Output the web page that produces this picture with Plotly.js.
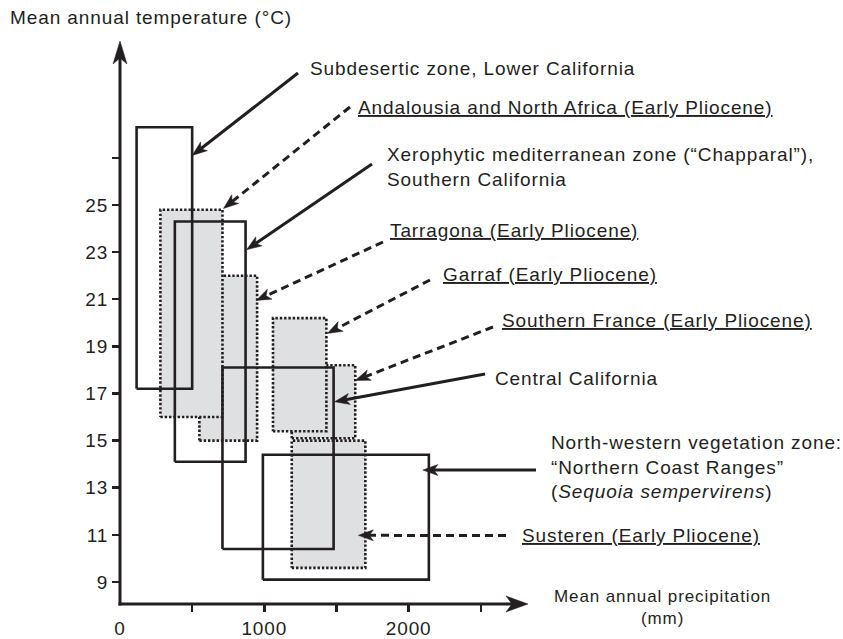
<!DOCTYPE html>
<html>
<head>
<meta charset="utf-8">
<script src="https://cdn.plot.ly/plotly-3.0.1.min.js"></script>
<style>
  html, body { margin: 0; padding: 0; background: #ffffff; }
  #chart { width: 843px; height: 639px; }
  text { letter-spacing: 0.9px; }
</style>
</head>
<body>
<div id="chart"></div>
<script>
// Climate envelopes: mean annual precipitation (mm) against mean annual temperature (°C)

// Early Pliocene floras (dotted outline, grey fill), in drawing order
const plioceneSites = ['Tarragona', 'Andalousia and North Africa', 'Southern France', 'Garraf', 'Susteren'];
const plioPrecipMin = [550, 280, 1190, 1060, 1190];
const plioPrecipMax = [950, 710, 1630, 1430, 1700];
const plioTempMin = [15.0, 16.0, 15.1, 15.4, 9.6];
const plioTempMax = [22.0, 24.8, 18.2, 20.2, 15.0];

// Present-day Californian vegetation zones (solid outline)
const modernZones = ['Subdesertic zone, Lower California', 'Xerophytic mediterranean zone, Southern California', 'Central California', 'North-western vegetation zone'];
const modPrecipMin = [115, 380, 710, 990];
const modPrecipMax = [500, 870, 1480, 2140];
const modTempMin = [17.2, 14.1, 10.4, 9.1];
const modTempMax = [28.3, 24.3, 18.1, 14.4];

// Axis ticks and labels
const precipTickVals = [500, 1000, 1500, 2000, 2500];
const precipLabelVals = [0, 1000, 2000];
const precipLabels = ['0', '1000', '2000'];
const tempTickVals = [9, 11, 13, 15, 17, 19, 21, 23, 25, 27];
const tempLabels = ['9', '11', '13', '15', '17', '19', '21', '23', '25', ''];

// ---- layout geometry ----
const W = 843, H = 639;
const ML = 120, MT = 43, PW = 407, PH = 561;
const XMAX = 2820;
const YMIN = 8.066, YMAX = 31.875;
const INK = '#231f20';
const GREY = '#dfe0e2';
const FAMILY = '"Liberation Sans", Arial, Helvetica, sans-serif';
const FONT = { family: FAMILY, size: 19, color: INK };
const SMALL = { family: FAMILY, size: 17, color: INK };

const toPX = v => ML + v / XMAX * PW;
const toPY = v => MT + (YMAX - v) / (YMAX - YMIN) * PH;
const paperX = p => (p - ML) / PW;
const paperY = p => (MT + PH - p) / PH;

function boxTrace(x0, x1, y0, y1, name, dotted) {
  return {
    type: 'scatter', mode: 'lines', name: name,
    x: [x0, x1, x1, x0, x0], y: [y0, y0, y1, y1, y0],
    fill: dotted ? 'toself' : 'none',
    fillcolor: GREY,
    line: dotted ? { color: INK, width: 2.6, dash: '2.4px,1.9px' } : { color: INK, width: 2.6 },
    hoverinfo: 'skip', showlegend: false
  };
}

const traces = [];
plioceneSites.forEach((s, i) => traces.push(boxTrace(plioPrecipMin[i], plioPrecipMax[i], plioTempMin[i], plioTempMax[i], s, true)));
modernZones.forEach((s, i) => traces.push(boxTrace(modPrecipMin[i], modPrecipMax[i], modTempMin[i], modTempMax[i], s, false)));
// carrier for the labelled precipitation axis
traces.push({ type: 'scatter', mode: 'markers', x: [0], y: [9], xaxis: 'x2', yaxis: 'y',
  marker: { opacity: 0 }, hoverinfo: 'skip', showlegend: false });

// Arrow: shaft plus barbed head, built in pixel space, placed in paper coordinates
function arrowShapes(tail, tip, o) {
  const dx = tip[0] - tail[0], dy = tip[1] - tail[1];
  const len = Math.hypot(dx, dy);
  const ux = dx / len, uy = dy / len, nx = -uy, ny = ux;
  const back = [tip[0] - ux * o.len, tip[1] - uy * o.len];
  const p1 = [back[0] + nx * o.half, back[1] + ny * o.half];
  const p2 = [back[0] - nx * o.half, back[1] - ny * o.half];
  const mid = [tip[0] - ux * (o.len - o.notch), tip[1] - uy * (o.len - o.notch)];
  const pt = p => paperX(p[0]).toFixed(5) + ',' + paperY(p[1]).toFixed(5);
  return [
    { type: 'line', xref: 'paper', yref: 'paper', layer: 'above',
      x0: paperX(tail[0]), y0: paperY(tail[1]), x1: paperX(mid[0]), y1: paperY(mid[1]),
      line: { color: INK, width: o.width, dash: o.dashed ? '8px,5px' : 'solid' } },
    { type: 'path', xref: 'paper', yref: 'paper', layer: 'above',
      path: 'M' + pt(tip) + 'L' + pt(p1) + 'L' + pt(mid) + 'L' + pt(p2) + 'Z',
      fillcolor: INK, line: { color: INK, width: 0.5 } }
  ];
}

const boxes = {
  plio: { xmax: plioPrecipMax },
  modern: { xmax: modPrecipMax }
};

// Callouts: label text, label anchor (px), box pointed at, temperature hit, tail (px)
const callouts = [
  { text: 'Subdesertic zone, Lower California', tx: 308, ty: 68, set: 'modern', i: 0, at: 27.1, dx: 0, tail: [298, 73], dashed: false },
  { text: '<u>Andalousia and North Africa (Early Pliocene)</u>', tx: 356, ty: 108, set: 'plio', i: 1, at: 24.85, dx: 1, tail: [350, 107], dashed: true },
  { text: 'Xerophytic mediterranean zone (“Chapparal”),<br>Southern California', tx: 385, ty: 167, set: 'modern', i: 1, at: 23.1, dx: 1, tail: [372, 164], dashed: false },
  { text: '<u>Tarragona (Early Pliocene)</u>', tx: 388, ty: 230, set: 'plio', i: 0, at: 20.95, dx: -1, tail: [383, 242], dashed: true },
  { text: '<u>Garraf (Early Pliocene)</u>', tx: 441, ty: 274, set: 'plio', i: 3, at: 19.55, dx: 1, tail: [430, 280], dashed: true },
  { text: '<u>Southern France (Early Pliocene)</u>', tx: 500, ty: 320, set: 'plio', i: 2, at: 17.55, dx: 0, tail: [493, 327], dashed: true },
  { text: 'Central California', tx: 493, ty: 378, set: 'modern', i: 2, at: 16.65, dx: 1, tail: [485, 374], dashed: false },
  { text: 'North-western vegetation zone:<br>“Northern Coast Ranges”<br>(<i>Sequoia sempervirens</i>)', tx: 549, ty: 467, set: 'modern', i: 3, at: 13.75, dx: -6, tail: [536, 470], dashed: false },
  { text: '<u>Susteren (Early Pliocene)</u>', tx: 520, ty: 535, set: 'plio', i: 4, at: 10.98, dx: -7, tail: [506, 535.5], dashed: true }
];

let shapes = [];
const annotations = [];

// axes drawn as arrows from the origin
shapes = shapes.concat(arrowShapes([118.5, 604], [528, 604], { len: 22, half: 8, notch: 6, width: 3 }));
shapes = shapes.concat(arrowShapes([120, 605.5], [120, 41], { len: 23, half: 7, notch: 6, width: 3 }));

callouts.forEach(c => {
  const tip = [toPX(boxes[c.set].xmax[c.i]) + c.dx, toPY(c.at)];
  shapes = shapes.concat(arrowShapes(c.tail, tip, { len: 15, half: 5.5, notch: 4, width: 3, dashed: c.dashed }));
  annotations.push({ xref: 'paper', yref: 'paper', x: paperX(c.tx), y: paperY(c.ty),
    xanchor: 'left', yanchor: 'middle', align: 'left', showarrow: false, text: c.text, font: FONT });
});

// axis titles
annotations.push({ xref: 'paper', yref: 'paper', x: paperX(8), y: paperY(18), xanchor: 'left', yanchor: 'middle',
  showarrow: false, text: 'Mean annual temperature (°C)', font: FONT });
annotations.push({ xref: 'paper', yref: 'paper', x: paperX(662), y: paperY(607), xanchor: 'center', yanchor: 'middle',
  align: 'center', showarrow: false, text: 'Mean annual precipitation<br>(mm)', font: SMALL });

const layout = {
  width: W, height: H,
  margin: { l: ML, r: W - ML - PW, t: MT, b: H - MT - PH, pad: 0 },
  paper_bgcolor: '#ffffff', plot_bgcolor: 'rgba(0,0,0,0)',
  showlegend: false, hovermode: false,
  font: FONT,
  xaxis: { range: [0, XMAX], tickvals: precipTickVals, showticklabels: false, ticks: 'outside',
    ticklen: 7, tickwidth: 2.5, tickcolor: INK, showgrid: false, zeroline: false, showline: false, fixedrange: true },
  xaxis2: { overlaying: 'x', anchor: 'y', side: 'bottom', range: [0, XMAX], tickvals: precipLabelVals,
    ticktext: precipLabels, ticks: '', showgrid: false, zeroline: false, showline: false,
    ticklabelstandoff: 11, tickfont: FONT, fixedrange: true },
  yaxis: { range: [YMIN, YMAX], tickvals: tempTickVals, ticktext: tempLabels, ticks: 'outside',
    ticklen: 7, tickwidth: 2.5, tickcolor: INK, showgrid: false, zeroline: false, showline: false,
    ticklabelstandoff: 0, tickfont: FONT, fixedrange: true },
  shapes: shapes,
  annotations: annotations
};

Plotly.newPlot('chart', traces, layout, { staticPlot: true, displayModeBar: false });
</script>
</body>
</html>
